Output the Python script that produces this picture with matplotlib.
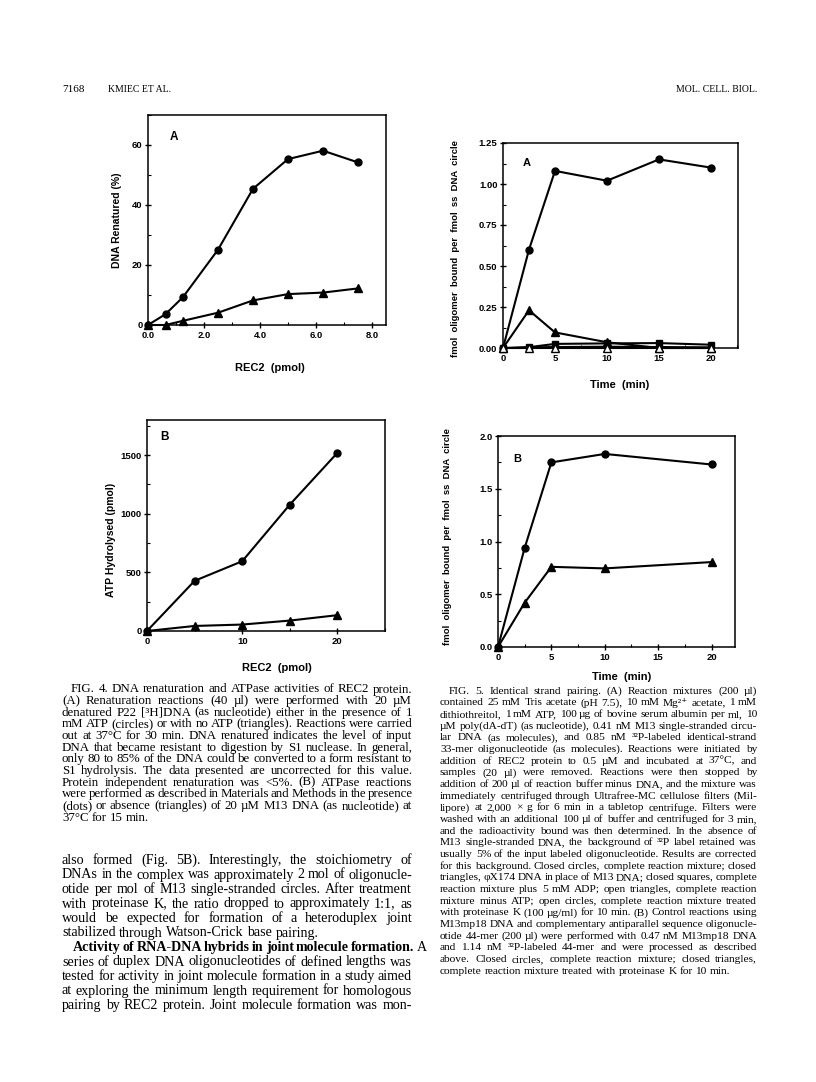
import matplotlib
matplotlib.use('Agg')
import matplotlib.pyplot as plt
from matplotlib.ticker import MultipleLocator
import numpy as np

# ---------------- data ----------------
rec2_a = [0, 0.625, 1.25, 2.5, 3.75, 5.0, 6.25, 7.5]
renat_atp = [0, 3.6, 9.3, 25.1, 45.4, 55.3, 58.1, 54.2]
renat_noatp = [0, 0.0, 1.4, 4.1, 8.2, 10.3, 10.8, 12.2]

rec2_b = [0, 5, 10, 15, 20]
atp_with_dna = [0, 428, 595, 1078, 1520]
atp_no_dna = [0, 43, 55, 89, 135]

time_a = [0, 2.5, 5, 10, 15, 20]
closed_circles_a = [0, 0.60, 1.08, 1.02, 1.15, 1.10]
closed_triangles_a = [0, 0.23, 0.095, 0.035, 0.0, 0.0]
closed_squares_a = [0, 0.005, 0.025, 0.028, 0.03, 0.02]
open_triangles_a = [0, 0, 0, 0, 0, 0]
open_circles_a = [0, 0.006, 0.008, 0.01, 0.008, 0.006]

time_b = [0, 2.5, 5, 10, 20]
complete_b = [0, 0.94, 1.75, 1.83, 1.73]
protk_b = [0, 0.42, 0.76, 0.745, 0.805]

# ---------------- setup ----------------
W, H = 816, 1082
fig = plt.figure(figsize=(W / 100, H / 100), dpi=100)
SANS = ['Liberation Sans', 'DejaVu Sans']
SERIF = ['Liberation Serif', 'DejaVu Serif']


def ax_at(l, t, r, b):
    return fig.add_axes([l / W, 1 - b / H, (r - l) / W, (b - t) / H])


def ftext(x, y, s, **kw):
    return fig.text(x / W, 1 - y / H, s, **kw)


TICK_FS = 6.8


def style(ax, xlim, ylim, xt, xl, yt, yl, xminor, yminor):
    ax.set_xlim(*xlim)
    ax.set_ylim(*ylim)
    ax.set_xticks(xt)
    ax.set_xticklabels(xl, fontweight='bold', family=SANS, fontsize=TICK_FS)
    ax.set_yticks(yt)
    ax.set_yticklabels(yl, fontweight='bold', family=SANS, fontsize=TICK_FS)
    ax.xaxis.set_minor_locator(MultipleLocator(xminor))
    ax.yaxis.set_minor_locator(MultipleLocator(yminor))
    for s in ax.spines.values():
        s.set_linewidth(1.1)
    ax.tick_params(which='major', direction='inout', length=5, width=1, pad=1.5)
    ax.tick_params(which='minor', direction='in', length=2.5, width=0.8)
    ax.tick_params(top=False, right=False, which='both')


LW = 1.5
MS_C = 5.0
MS_T = 5.5

# ---------- Fig 4A ----------
ax = ax_at(148, 115, 386, 325)
ax.plot(rec2_a, renat_atp, '-o', color='black', lw=LW, ms=MS_C, clip_on=False, zorder=3)
ax.plot(rec2_a, renat_noatp, '-^', color='black', lw=LW, ms=MS_T, clip_on=False, zorder=3)
style(ax, (0, 8.5), (0, 70), [0, 2, 4, 6, 8], ['0.0', '2.0', '4.0', '6.0', '8.0'],
      [0, 20, 40, 60], ['0', '20', '40', '60'], 1, 10)
ax.text(0.11, 0.895, 'A', transform=ax.transAxes, fontsize=8.5, fontweight='bold',
        family=SANS, ha='center', va='center')
ftext(117, 220, 'DNA Renatured (%)', rotation=90, ha='center', va='center',
      fontsize=7.5, fontweight='bold', family=SANS)
ftext(270, 368, 'REC2  (pmol)', ha='center', va='center', fontsize=8,
      fontweight='bold', family=SANS)

# ---------- Fig 4B ----------
ax = ax_at(147, 420, 385, 631)
ax.plot(rec2_b, atp_with_dna, '-o', color='black', lw=LW, ms=MS_C, clip_on=False, zorder=3)
ax.plot(rec2_b, atp_no_dna, '-^', color='black', lw=LW, ms=MS_T, clip_on=False, zorder=3)
style(ax, (0, 25), (0, 1800), [0, 10, 20], ['0', '10', '20'],
      [0, 500, 1000, 1500], ['0', '500', '1000', '1500'], 5, 250)
ax.text(0.3 / 4, 0.92, 'B', transform=ax.transAxes, fontsize=8.5, fontweight='bold',
        family=SANS, ha='center', va='center')
ftext(111, 540, 'ATP Hydrolysed (pmol)', rotation=90, ha='center', va='center',
      fontsize=7.5, fontweight='bold', family=SANS)
ftext(277, 668, 'REC2  (pmol)', ha='center', va='center', fontsize=8,
      fontweight='bold', family=SANS)

# ---------- Fig 5A ----------
ax = ax_at(503, 143, 738, 348)
ax.plot(time_a, open_circles_a, '-o', color='black', mfc='white', lw=1.0, ms=4,
        clip_on=False, zorder=2)
ax.plot(time_a, open_triangles_a, '-^', color='black', mfc='white', lw=LW, ms=MS_T,
        clip_on=False, zorder=4)
ax.plot(time_a, closed_squares_a, '-s', color='black', lw=LW, ms=4.5, clip_on=False, zorder=3)
ax.plot(time_a, closed_triangles_a, '-^', color='black', lw=LW, ms=MS_T, clip_on=False, zorder=3)
ax.plot(time_a, closed_circles_a, '-o', color='black', lw=LW, ms=MS_C, clip_on=False, zorder=3)
style(ax, (0, 22.6), (0, 1.25), [0, 5, 10, 15, 20], ['0', '5', '10', '15', '20'],
      [0, 0.25, 0.5, 0.75, 1.0, 1.25], ['0.00', '0.25', '0.50', '0.75', '1.00', '1.25'],
      2.5, 0.125)
ax.text(0.102, 0.9, 'A', transform=ax.transAxes, fontsize=8, fontweight='bold',
        family=SANS, ha='center', va='center')
ftext(455, 249, 'fmol  oligomer  bound  per  fmol  ss  DNA  circle', rotation=90,
      ha='center', va='center', fontsize=6.8, fontweight='bold', family=SANS)
ftext(620, 385, 'Time  (min)', ha='center', va='center', fontsize=8,
      fontweight='bold', family=SANS)

# ---------- Fig 5B ----------
ax = ax_at(498, 436, 735, 647)
ax.plot(time_b, complete_b, '-o', color='black', lw=LW, ms=MS_C, clip_on=False, zorder=3)
ax.plot(time_b, protk_b, '-^', color='black', lw=LW, ms=MS_T, clip_on=False, zorder=3)
style(ax, (0, 22.2), (0, 2.0), [0, 5, 10, 15, 20], ['0', '5', '10', '15', '20'],
      [0, 0.5, 1.0, 1.5, 2.0], ['0.0', '0.5', '1.0', '1.5', '2.0'], 2.5, 0.25)
ax.text(0.083, 0.89, 'B', transform=ax.transAxes, fontsize=8, fontweight='bold',
        family=SANS, ha='center', va='center')
ftext(447, 537, 'fmol  oligomer  bound  per  fmol  ss  DNA  circle', rotation=90,
      ha='center', va='center', fontsize=6.8, fontweight='bold', family=SANS)
ftext(622, 677, 'Time  (min)', ha='center', va='center', fontsize=8,
      fontweight='bold', family=SANS)

# ---------------- page text ----------------
renderer = fig.canvas.get_renderer()


def measure(s, size, weight):
    t = fig.text(0, 0, s, fontsize=size, fontweight=weight, family=SERIF)
    w = t.get_window_extent(renderer).width
    t.remove()
    return w


def parse(line):
    words = []
    for w in line.split():
        if w.startswith('**'):
            words.append((w[2:], 'bold'))
        else:
            words.append((w, 'normal'))
    return words


def fit_size(lines, width, ragged, indented, indent, s0=10.0):
    ratios = []
    for i, line in enumerate(lines):
        if i in ragged:
            continue
        words = parse(line)
        nat = sum(measure(w, s0, wt) for w, wt in words) + 0.25 * s0 * 100 / 72 * (len(words) - 1)
        avail = width - (indent if i in indented else 0)
        ratios.append(avail / nat)
    return s0 * float(np.median(ratios)) * 0.985


def paragraph(lines, x0, x1, y0, dy, ragged=(), indented=(), indent=9):
    size = fit_size(lines, x1 - x0, ragged, indented, indent)
    space = 0.25 * size * 100 / 72
    for i, line in enumerate(lines):
        y = y0 + i * dy
        words = parse(line)
        widths = [measure(w, size, wt) for w, wt in words]
        xs = x0 + (indent if i in indented else 0)
        if i in ragged or len(words) < 2:
            gap = space
        else:
            gap = (x1 - xs - sum(widths)) / (len(words) - 1)
            gap = max(gap, space * 0.6)
        x = xs
        for (w, wt), wd in zip(words, widths):
            ftext(x, y, w, fontsize=size, fontweight=wt, family=SERIF,
                  ha='left', va='center_baseline')
            x += wd + gap


cap4 = [
    "FIG. 4. DNA renaturation and ATPase activities of REC2 protein.",
    "(A) Renaturation reactions (40 µl) were performed with 20 µM",
    "denatured P22 [³H]DNA (as nucleotide) either in the presence of 1",
    "mM ATP (circles) or with no ATP (triangles). Reactions were carried",
    "out at 37°C for 30 min. DNA renatured indicates the level of input",
    "DNA that became resistant to digestion by S1 nuclease. In general,",
    "only 80 to 85% of the DNA could be converted to a form resistant to",
    "S1 hydrolysis. The data presented are uncorrected for this value.",
    "Protein independent renaturation was <5%. (B) ATPase reactions",
    "were performed as described in Materials and Methods in the presence",
    "(dots) or absence (triangles) of 20 µM M13 DNA (as nucleotide) at",
    "37°C for 15 min.",
]
paragraph(cap4, 62, 412, 688, 11.64, ragged={11}, indented={0})

cap5 = [
    "FIG. 5. Identical strand pairing. (A) Reaction mixtures (200 µl)",
    "contained 25 mM Tris acetate (pH 7.5), 10 mM Mg²⁺ acetate, 1 mM",
    "dithiothreitol, 1 mM ATP, 100 µg of bovine serum albumin per ml, 10",
    "µM poly(dA-dT) (as nucleotide), 0.41 nM M13 single-stranded circu-",
    "lar DNA (as molecules), and 0.85 nM ³²P-labeled identical-strand",
    "33-mer oligonucleotide (as molecules). Reactions were initiated by",
    "addition of REC2 protein to 0.5 µM and incubated at 37°C, and",
    "samples (20 µl) were removed. Reactions were then stopped by",
    "addition of 200 µl of reaction buffer minus DNA, and the mixture was",
    "immediately centrifuged through Ultrafree-MC cellulose filters (Mil-",
    "lipore) at 2,000 × g for 6 min in a tabletop centrifuge. Filters were",
    "washed with an additional 100 µl of buffer and centrifuged for 3 min,",
    "and the radioactivity bound was then determined. In the absence of",
    "M13 single-stranded DNA, the background of ³²P label retained was",
    "usually 5% of the input labeled oligonucleotide. Results are corrected",
    "for this background. Closed circles, complete reaction mixture; closed",
    "triangles, φX174 DNA in place of M13 DNA; closed squares, complete",
    "reaction mixture plus 5 mM ADP; open triangles, complete reaction",
    "mixture minus ATP; open circles, complete reaction mixture treated",
    "with proteinase K (100 µg/ml) for 10 min. (B) Control reactions using",
    "M13mp18 DNA and complementary antiparallel sequence oligonucle-",
    "otide 44-mer (200 µl) were performed with 0.47 nM M13mp18 DNA",
    "and 1.14 nM ³²P-labeled 44-mer and were processed as described",
    "above. Closed circles, complete reaction mixture; closed triangles,",
    "complete reaction mixture treated with proteinase K for 10 min.",
]
paragraph(cap5, 440, 757, 690, 11.67, ragged={24}, indented={0})

body = [
    "also formed (Fig. 5B). Interestingly, the stoichiometry of",
    "DNAs in the complex was approximately 2 mol of oligonucle-",
    "otide per mol of M13 single-stranded circles. After treatment",
    "with proteinase K, the ratio dropped to approximately 1:1, as",
    "would be expected for formation of a heteroduplex joint",
    "stabilized through Watson-Crick base pairing.",
    "**Activity **of **RNA-DNA **hybrids **in **joint **molecule **formation. A",
    "series of duplex DNA oligonucleotides of defined lengths was",
    "tested for activity in joint molecule formation in a study aimed",
    "at exploring the minimum length requirement for homologous",
    "pairing by REC2 protein. Joint molecule formation was mon-",
]
paragraph(body, 62, 412, 859, 14.5, ragged={5}, indented={6}, indent=11)

# header
ftext(62, 88, '7168', fontsize=8, family=SERIF, va='center_baseline')
ftext(108, 88, 'KMIEC ET AL.', fontsize=7, family=SERIF, va='center_baseline')
ftext(757, 88, 'MOL. CELL. BIOL.', fontsize=7, family=SERIF, va='center_baseline', ha='right')

fig.savefig('out.png', dpi=100)
